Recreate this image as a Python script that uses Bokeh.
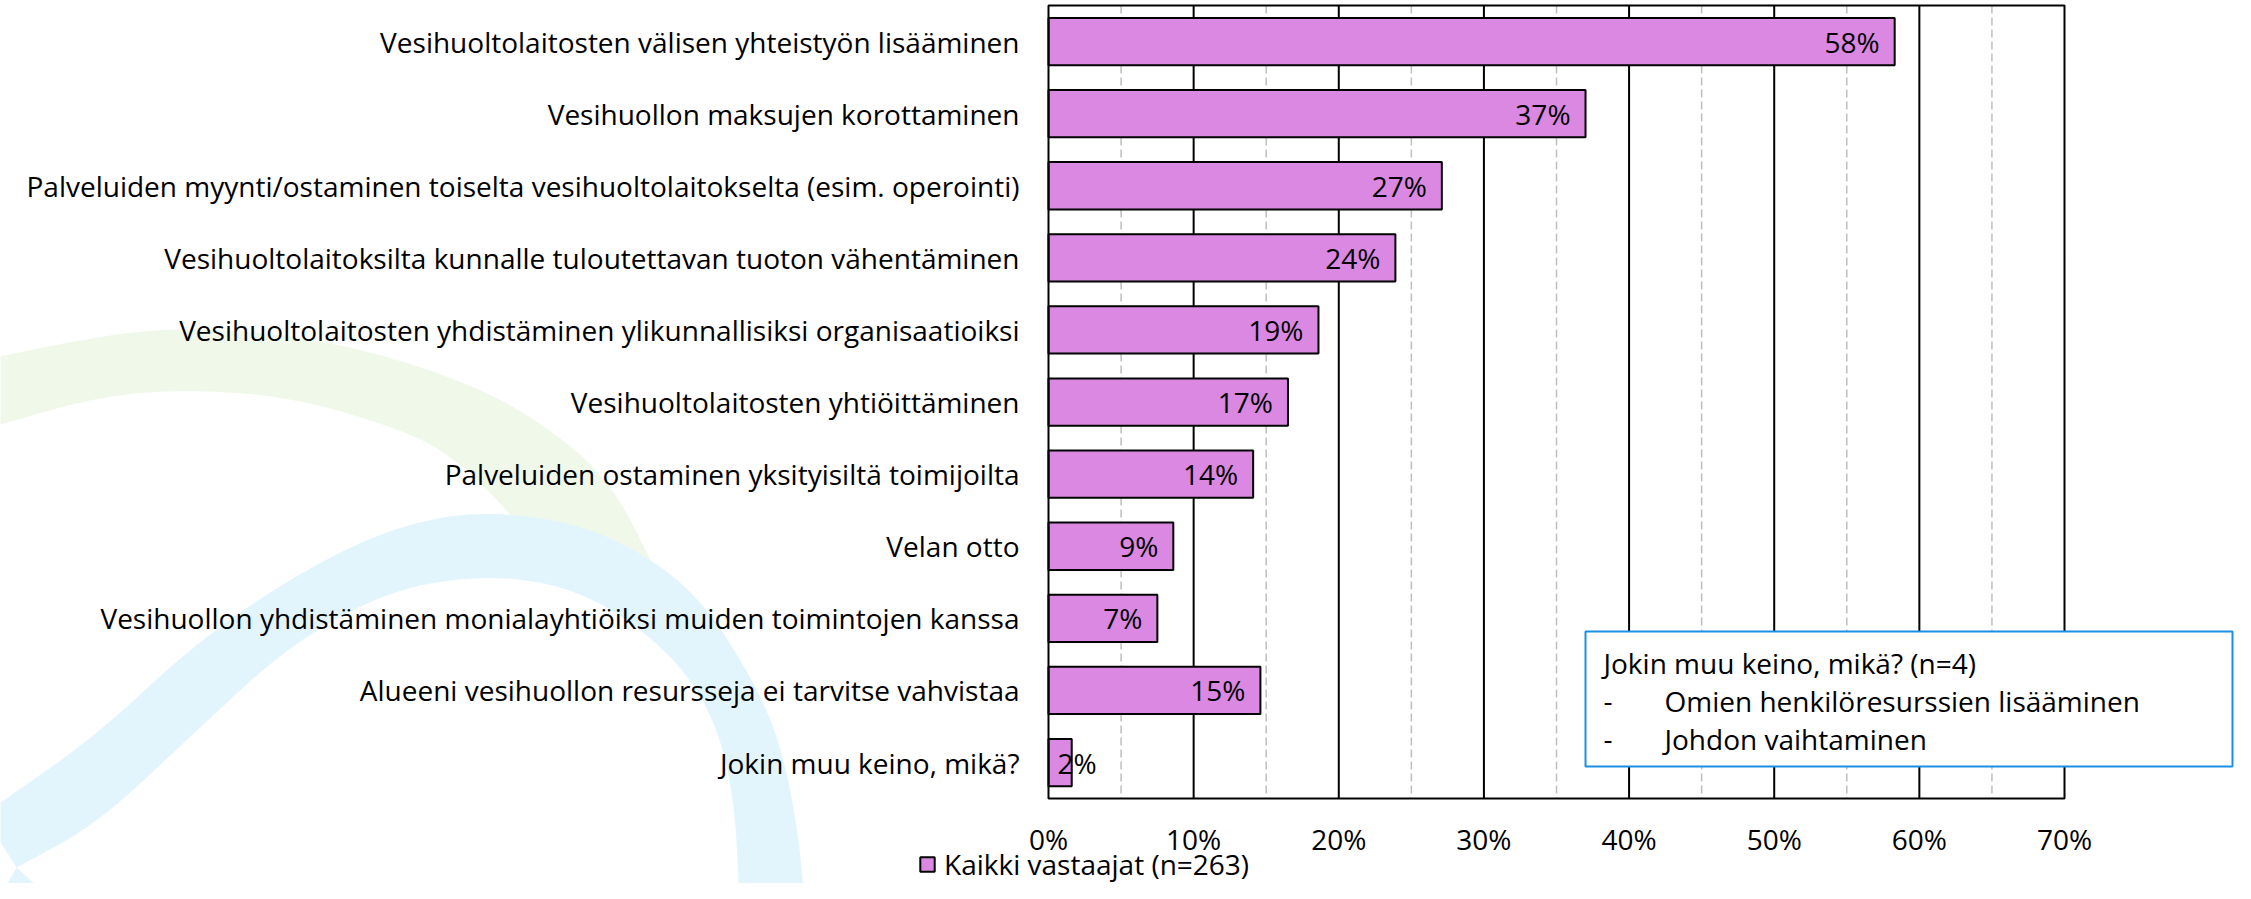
import numpy as np
from bokeh.plotting import figure
from bokeh.models import Range1d, Legend, LegendItem
from bokeh.embed import file_html
from bokeh.resources import INLINE
from bokeh.core.properties import value

# ---------------- data ----------------
categories = [
    "Vesihuoltolaitosten välisen yhteistyön lisääminen",
    "Vesihuollon maksujen korottaminen",
    "Palveluiden myynti/ostaminen toiselta vesihuoltolaitokselta (esim. operointi)",
    "Vesihuoltolaitoksilta kunnalle tuloutettavan tuoton vähentäminen",
    "Vesihuoltolaitosten yhdistäminen ylikunnallisiksi organisaatioiksi",
    "Vesihuoltolaitosten yhtiöittäminen",
    "Palveluiden ostaminen yksityisiltä toimijoilta",
    "Velan otto",
    "Vesihuollon yhdistäminen monialayhtiöiksi muiden toimintojen kanssa",
    "Alueeni vesihuollon resursseja ei tarvitse vahvistaa",
    "Jokin muu keino, mikä?",
]
values = [58.3, 37.0, 27.1, 23.9, 18.6, 16.5, 14.1, 8.6, 7.5, 14.6, 1.6]
value_labels = ["58%", "37%", "27%", "24%", "19%", "17%", "14%", "9%", "7%", "15%", "2%"]
major_ticks = [0, 10, 20, 30, 40, 50, 60, 70]
major_tick_labels = ["0%", "10%", "20%", "30%", "40%", "50%", "60%", "70%"]
minor_ticks = [5, 15, 25, 35, 45, 55, 65]
series_name = "Kaikki vastaajat (n=263)"
note_title = "Jokin muu keino, mikä? (n=4)"
note_items = ["Omien henkilöresurssien lisääminen", "Johdon vaihtaminen"]

# ---------------- layout (pixels) ----------------
W, H = 2235, 883
FRAME_L, FRAME_R = 1048, 2064
FRAME_T, BAND = 5, 72.1
XMAX = 70
PXU = (FRAME_R - FRAME_L) / XMAX
FS_PX = 28
FS = f"{FS_PX}px"
FONT = value("Open Sans")


def xd(px):
    return (np.asarray(px, float) - FRAME_L) / PXU


def yd(py):
    return (np.asarray(py, float) - FRAME_T) / BAND - 0.5


def chaikin(pts, n=4):
    pts = np.asarray(pts, float)
    for _ in range(n):
        q = 0.75 * pts[:-1] + 0.25 * pts[1:]
        r = 0.25 * pts[:-1] + 0.75 * pts[1:]
        new = np.empty((2 * len(q), 2))
        new[0::2] = q
        new[1::2] = r
        pts = np.vstack([pts[:1], new, pts[-1:]])
    return pts


# decorative background shapes (pixels)
GREEN_OUTER = [(-20, 360), (96, 336), (179, 327), (287, 334), (383, 354), (478, 387),
               (542, 423), (606, 476), (650, 557), (670, 610)]
GREEN_INNER = [(530, 545), (510, 512), (446, 450), (383, 423), (287, 396), (185, 389),
               (96, 396), (-20, 430)]
BLUE_OUTER = [(-20, 816), (0, 802), (96, 735), (191, 646), (287, 579), (383, 530), (472, 510),
              (574, 521), (650, 557), (702, 601), (746, 668), (778, 735), (797, 824), (806, 920)]
BLUE_INNER = [(740, 920), (733, 780), (702, 690), (638, 624), (561, 583), (472, 575),
              (383, 592), (287, 646), (191, 735), (96, 824), (16, 867)]
BLUE_LOW = [(-20, 880), (0, 895), (16, 867), (75, 920), (-20, 920)]

n = len(categories)
idx = list(range(n))

p = figure(width=W, height=H,
           x_range=Range1d(float(xd(0)), float(xd(W))),
           y_range=Range1d(float(yd(H)), float(yd(0))),
           min_border=0, toolbar_location=None, output_backend="svg",
           x_axis_location=None, y_axis_location=None)
p.grid.visible = False
p.outline_line_color = None
p.background_fill_color = "white"
p.border_fill_color = "white"

# background decoration
g = np.vstack([chaikin(GREEN_OUTER), chaikin(GREEN_INNER)])
p.patch(xd(g[:, 0]), yd(g[:, 1]), fill_color="#F0F8EA", line_color=None)
b = np.vstack([chaikin(BLUE_OUTER), chaikin(BLUE_INNER), [(0, 842)]])
p.patch(xd(b[:, 0]), yd(b[:, 1]), fill_color="#E3F5FC", line_color=None)
bl = np.asarray(BLUE_LOW, float)
p.patch(xd(bl[:, 0]), yd(bl[:, 1]), fill_color="#E3F5FC", line_color=None)

top_y = -0.5
bot_y = n - 0.5

# grid lines
p.segment(x0=minor_ticks, y0=[top_y] * len(minor_ticks), x1=minor_ticks, y1=[bot_y] * len(minor_ticks),
          line_color="#BFBFBF", line_width=1.5, line_dash="8 4")
inner_major = major_ticks[1:-1]
p.segment(x0=inner_major, y0=[top_y] * len(inner_major), x1=inner_major, y1=[bot_y] * len(inner_major),
          line_color="black", line_width=2)

# bars
bars = p.hbar(y=idx, left=0, right=values, height=0.656,
              fill_color="#DA88E2", line_color="black", line_width=2)

# frame
p.quad(left=[0], right=[XMAX], top=[top_y], bottom=[bot_y],
       fill_color=None, line_color="black", line_width=2)

# value labels
fit_i, small_i = [], []
for i, (v, lab) in enumerate(zip(values, value_labels)):
    est_w = len(lab) * 0.56 * FS_PX
    (fit_i if v * PXU - 16 - est_w >= 11 else small_i).append(i)
p.text(x=[values[i] for i in fit_i], y=fit_i, text=[value_labels[i] for i in fit_i],
       x_offset=-15, text_align="right", text_baseline="middle",
       text_font=FONT, text_font_size=FS, text_color="black")
p.text(x=[0] * len(small_i), y=small_i, text=[value_labels[i] for i in small_i],
       x_offset=9, text_align="left", text_baseline="middle",
       text_font=FONT, text_font_size=FS, text_color="black")

# category labels
p.text(x=[0] * n, y=idx, text=categories, x_offset=-29, text_align="right",
       text_baseline="middle", text_font=FONT, text_font_size=FS, text_color="black")

# x tick labels
p.text(x=major_ticks, y=[bot_y] * len(major_ticks), text=major_tick_labels, y_offset=40,
       text_align="center", text_baseline="middle", text_font=FONT, text_font_size=FS,
       text_color="black")

# note box
p.quad(left=[float(xd(1585))], right=[float(xd(2232))], top=[float(yd(631))], bottom=[float(yd(766))],
       fill_color="white", line_color="#1A8FE3", line_width=2)
p.text(x=[float(xd(1603))], y=[float(yd(662))], text=[note_title], text_align="left",
       text_baseline="middle", text_font=FONT, text_font_size=FS, text_color="black")
p.text(x=[float(xd(1603))] * 2, y=[float(yd(700)), float(yd(738))], text=["-", "-"],
       text_align="left", text_baseline="middle", text_font=FONT, text_font_size=FS,
       text_color="black")
p.text(x=[float(xd(1664))] * 2, y=[float(yd(700)), float(yd(738))], text=note_items,
       text_align="left", text_baseline="middle", text_font=FONT, text_font_size=FS,
       text_color="black")

# legend
legend = Legend(items=[LegendItem(label=series_name, renderers=[bars])],
                location=(918, 0), orientation="horizontal",
                glyph_width=18, glyph_height=18, label_standoff=8,
                label_text_font="Open Sans", label_text_font_size=FS,
                label_text_color="black",
                padding=0, margin=0, spacing=0,
                background_fill_alpha=0, border_line_color=None)
p.add_layout(legend, "center")

open("out.html", "w").write(file_html(p, INLINE))
